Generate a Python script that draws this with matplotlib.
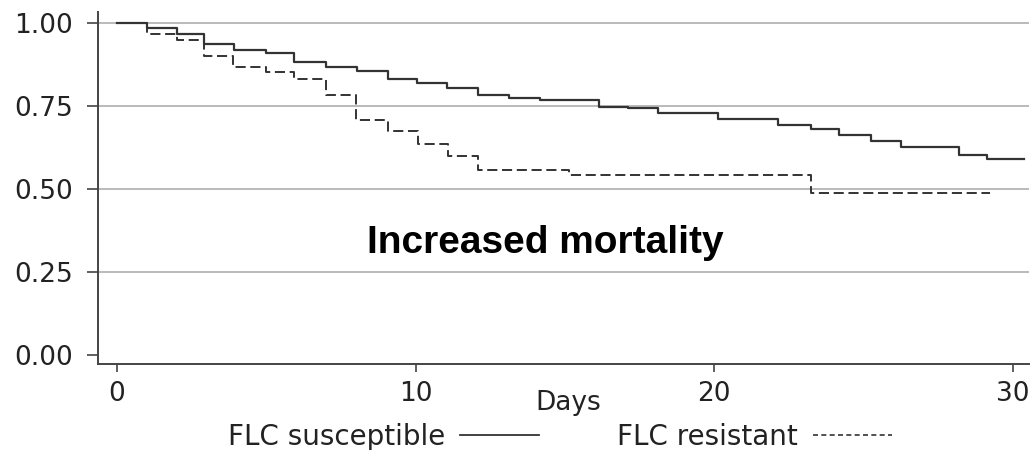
import matplotlib
matplotlib.use("Agg")
import matplotlib.pyplot as plt
from matplotlib.lines import Line2D

# Kaplan-Meier estimates (days, survival)
dias_suscetivel = [0, 1.0, 2.0, 2.92, 3.93, 4.99, 5.94, 7.0, 8.03, 9.07, 10.04, 11.05,
                   12.08, 13.13, 14.16, 16.15, 17.13, 18.13, 20.13, 22.14, 23.26, 24.2,
                   25.25, 26.27, 28.2, 29.13, 30.39]
surv_suscetivel = [1.0, 0.986, 0.968, 0.938, 0.919, 0.911, 0.883, 0.869, 0.856, 0.833,
                   0.820, 0.806, 0.784, 0.775, 0.767, 0.748, 0.744, 0.729, 0.712, 0.693,
                   0.680, 0.662, 0.644, 0.626, 0.604, 0.590, 0.590]

dias_resistente = [0, 1.0, 2.0, 2.92, 3.87, 4.99, 5.94, 7.0, 8.0, 9.07, 10.07, 11.07,
                   12.08, 15.13, 23.24, 29.25]
surv_resistente = [1.0, 0.968, 0.950, 0.901, 0.869, 0.853, 0.833, 0.784, 0.708, 0.675,
                   0.635, 0.600, 0.558, 0.541, 0.487, 0.487]

yticks = [0.0, 0.25, 0.5, 0.75, 1.0]
ytick_labels = ["0.00", "0.25", "0.50", "0.75", "1.00"]
xticks = [0, 10, 20, 30]

cor_linha = "#333333"
cor_grade = "#b4b4b4"

fig = plt.figure(figsize=(10.35, 4.5), dpi=100)
ax = fig.add_axes([0.0947, 0.191, 0.8995, 0.782])

ax.step(dias_suscetivel, surv_suscetivel, where="post", color=cor_linha, lw=1.6)
ax.step(dias_resistente, surv_resistente, where="post", color=cor_linha, lw=1.4,
        linestyle=(0, (5.2, 2.4)))

ax.set_xlim(-0.64, 30.55)
ax.set_ylim(-0.027, 1.033)

ax.set_yticks(yticks)
ax.set_yticklabels(ytick_labels)
ax.set_xticks(xticks)

ax.grid(axis="y", color=cor_grade, lw=1.3)
ax.get_ygridlines()[0].set_visible(False)
ax.set_axisbelow(True)

for lado in ["top", "right"]:
    ax.spines[lado].set_visible(False)
for lado in ["left", "bottom"]:
    ax.spines[lado].set_color("#444444")
    ax.spines[lado].set_linewidth(1.4)

ax.tick_params(axis="y", length=8, width=1.2, color="#444444", pad=10,
               labelsize=19, labelcolor="#222222")
ax.tick_params(axis="x", length=6, width=1.2, color="#444444", pad=6,
               labelsize=19, labelcolor="#222222")
for lbl in ax.get_xticklabels() + ax.get_yticklabels():
    lbl.set_family("DejaVu Sans")

ax.set_xlabel("Days", fontsize=19, color="#222222", family="DejaVu Sans")
ax.xaxis.label.set_va("center")
ax.xaxis.set_label_coords(0.505, -0.111)

ax.text(0.480, 0.344, "Increased mortality", transform=ax.transAxes,
        ha="center", va="center", fontsize=28, fontweight="bold",
        family="Liberation Sans", color="black")

# legenda com a linha depois do texto
handles = [Line2D([], [], color=cor_linha, lw=1.3),
           Line2D([], [], color=cor_linha, lw=1.2, linestyle=(0, (3, 2)))]
leg = fig.legend(handles, ["FLC susceptible", "FLC resistant"], loc="center",
                 bbox_to_anchor=(0.541, 0.029), ncol=2, frameon=False,
                 markerfirst=False, handlelength=2.85, handletextpad=0.55,
                 columnspacing=2.8, prop={"family": "DejaVu Sans", "size": 20})
for t in leg.get_texts():
    t.set_color("#222222")

fig.savefig("out.png", dpi=100)
